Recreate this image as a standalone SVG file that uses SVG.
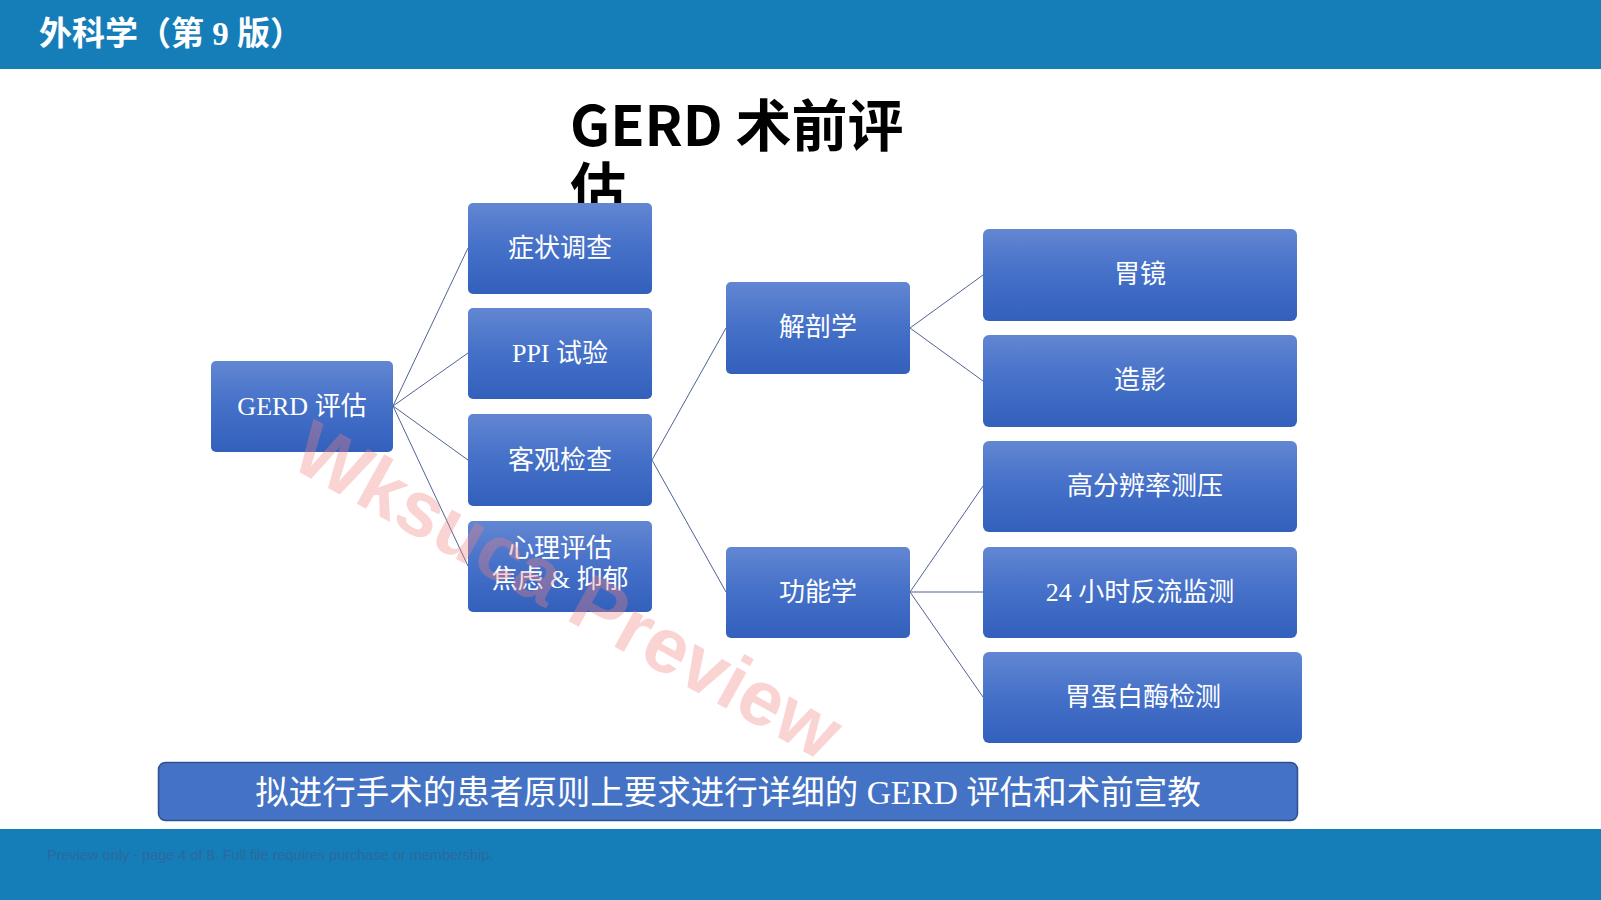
<svg xmlns="http://www.w3.org/2000/svg" width="1601" height="900" viewBox="0 0 1601 900">
<defs>
<linearGradient id="g" x1="0" y1="0" x2="0" y2="1">
<stop offset="0" stop-color="#6286D2"/>
<stop offset="0.5" stop-color="#4470C8"/>
<stop offset="1" stop-color="#3360BC"/>
</linearGradient>
<style>
.box{fill:url(#g);}
.t{font-family:"Liberation Serif","Noto Sans CJK SC",serif;font-size:26px;fill:#ffffff;text-anchor:middle;dominant-baseline:central;}
.c{stroke:#4F6494;stroke-width:1;fill:none;}
</style>
</defs>
<rect x="0" y="0" width="1601" height="900" fill="#ffffff"/>
<rect x="0" y="0" width="1601" height="69" fill="#157DB8"/>
<text x="39" y="45" font-family="Liberation Serif,'Noto Sans CJK SC',sans-serif" font-weight="700" font-size="33" fill="#ffffff">外科学（第 9 版）</text>
<rect x="0" y="829" width="1601" height="71" fill="#157DB8"/>
<text x="47" y="860" font-family="Liberation Sans,sans-serif" font-size="14.5" fill="#2B6A9C">Preview only - page 4 of 8. Full file requires purchase or membership.</text>

<g id="title">
<text font-family="'Noto Sans CJK SC',sans-serif" font-weight="700" font-size="56" fill="#000000"><tspan x="570" y="146">GERD 术前评</tspan><tspan x="570" y="209">估</tspan></text>
</g>

<g id="connectors">
<line class="c" x1="393" y1="406" x2="468" y2="248"/>
<line class="c" x1="393" y1="406" x2="468" y2="353"/>
<line class="c" x1="393" y1="406" x2="468" y2="460"/>
<line class="c" x1="393" y1="406" x2="468" y2="566"/>
<line class="c" x1="652" y1="460" x2="726" y2="328"/>
<line class="c" x1="652" y1="460" x2="726" y2="592"/>
<line class="c" x1="910" y1="328" x2="983" y2="275"/>
<line class="c" x1="910" y1="328" x2="983" y2="381"/>
<line class="c" x1="910" y1="592" x2="983" y2="486"/>
<line class="c" x1="910" y1="592" x2="983" y2="592"/>
<line class="c" x1="910" y1="592" x2="983" y2="697"/>
</g>

<g id="n-gerd"><rect class="box" x="211" y="361" width="182" height="91" rx="5"/><text class="t" x="302" y="406">GERD 评估</text></g>
<g id="n-symptom"><rect class="box" x="468" y="203" width="184" height="91" rx="5"/><text class="t" x="560" y="248">症状调查</text></g>
<g id="n-ppi"><rect class="box" x="468" y="308" width="184" height="91" rx="5"/><text class="t" x="560" y="353">PPI 试验</text></g>
<g id="n-objective"><rect class="box" x="468" y="414" width="184" height="92" rx="5"/><text class="t" x="560" y="460">客观检查</text></g>
<g id="n-psych"><rect class="box" x="468" y="521" width="184" height="91" rx="5"/><text class="t" x="560" y="548">心理评估</text><text class="t" x="560" y="579">焦虑 &amp; 抑郁</text></g>
<g id="n-anatomy"><rect class="box" x="726" y="282" width="184" height="92" rx="5"/><text class="t" x="818" y="327">解剖学</text></g>
<g id="n-function"><rect class="box" x="726" y="547" width="184" height="91" rx="5"/><text class="t" x="818" y="592">功能学</text></g>
<g id="n-endoscopy"><rect class="box" x="983" y="229" width="314" height="92" rx="6"/><text class="t" x="1140" y="274">胃镜</text></g>
<g id="n-contrast"><rect class="box" x="983" y="335" width="314" height="92" rx="6"/><text class="t" x="1140" y="380">造影</text></g>
<g id="n-manometry"><rect class="box" x="983" y="441" width="314" height="91" rx="6"/><text class="t" x="1145" y="486">高分辨率测压</text></g>
<g id="n-ph"><rect class="box" x="983" y="547" width="314" height="91" rx="6"/><text class="t" x="1140" y="592">24 小时反流监测</text></g>
<g id="n-pepsin"><rect class="box" x="983" y="652" width="319" height="91" rx="6"/><text class="t" x="1143" y="697">胃蛋白酶检测</text></g>

<g id="n-note">
<rect x="158.5" y="762.5" width="1139" height="58" rx="7" fill="#4472C4" stroke="#2F528F" stroke-width="1.5"/>
<text x="728" y="792" font-family="Liberation Serif,'Noto Sans CJK SC',serif" font-size="33.5" fill="#ffffff" text-anchor="middle" dominant-baseline="central">拟进行手术的患者原则上要求进行详细的 GERD 评估和术前宣教</text>
</g>

<g id="watermark">
<text x="568" y="590" transform="rotate(29 568 590)" font-family="'Liberation Sans',sans-serif" font-weight="700" font-size="78" fill="#F08080" fill-opacity="0.35" text-anchor="middle" dominant-baseline="central">Wksuca Preview</text>
</g>
</svg>
